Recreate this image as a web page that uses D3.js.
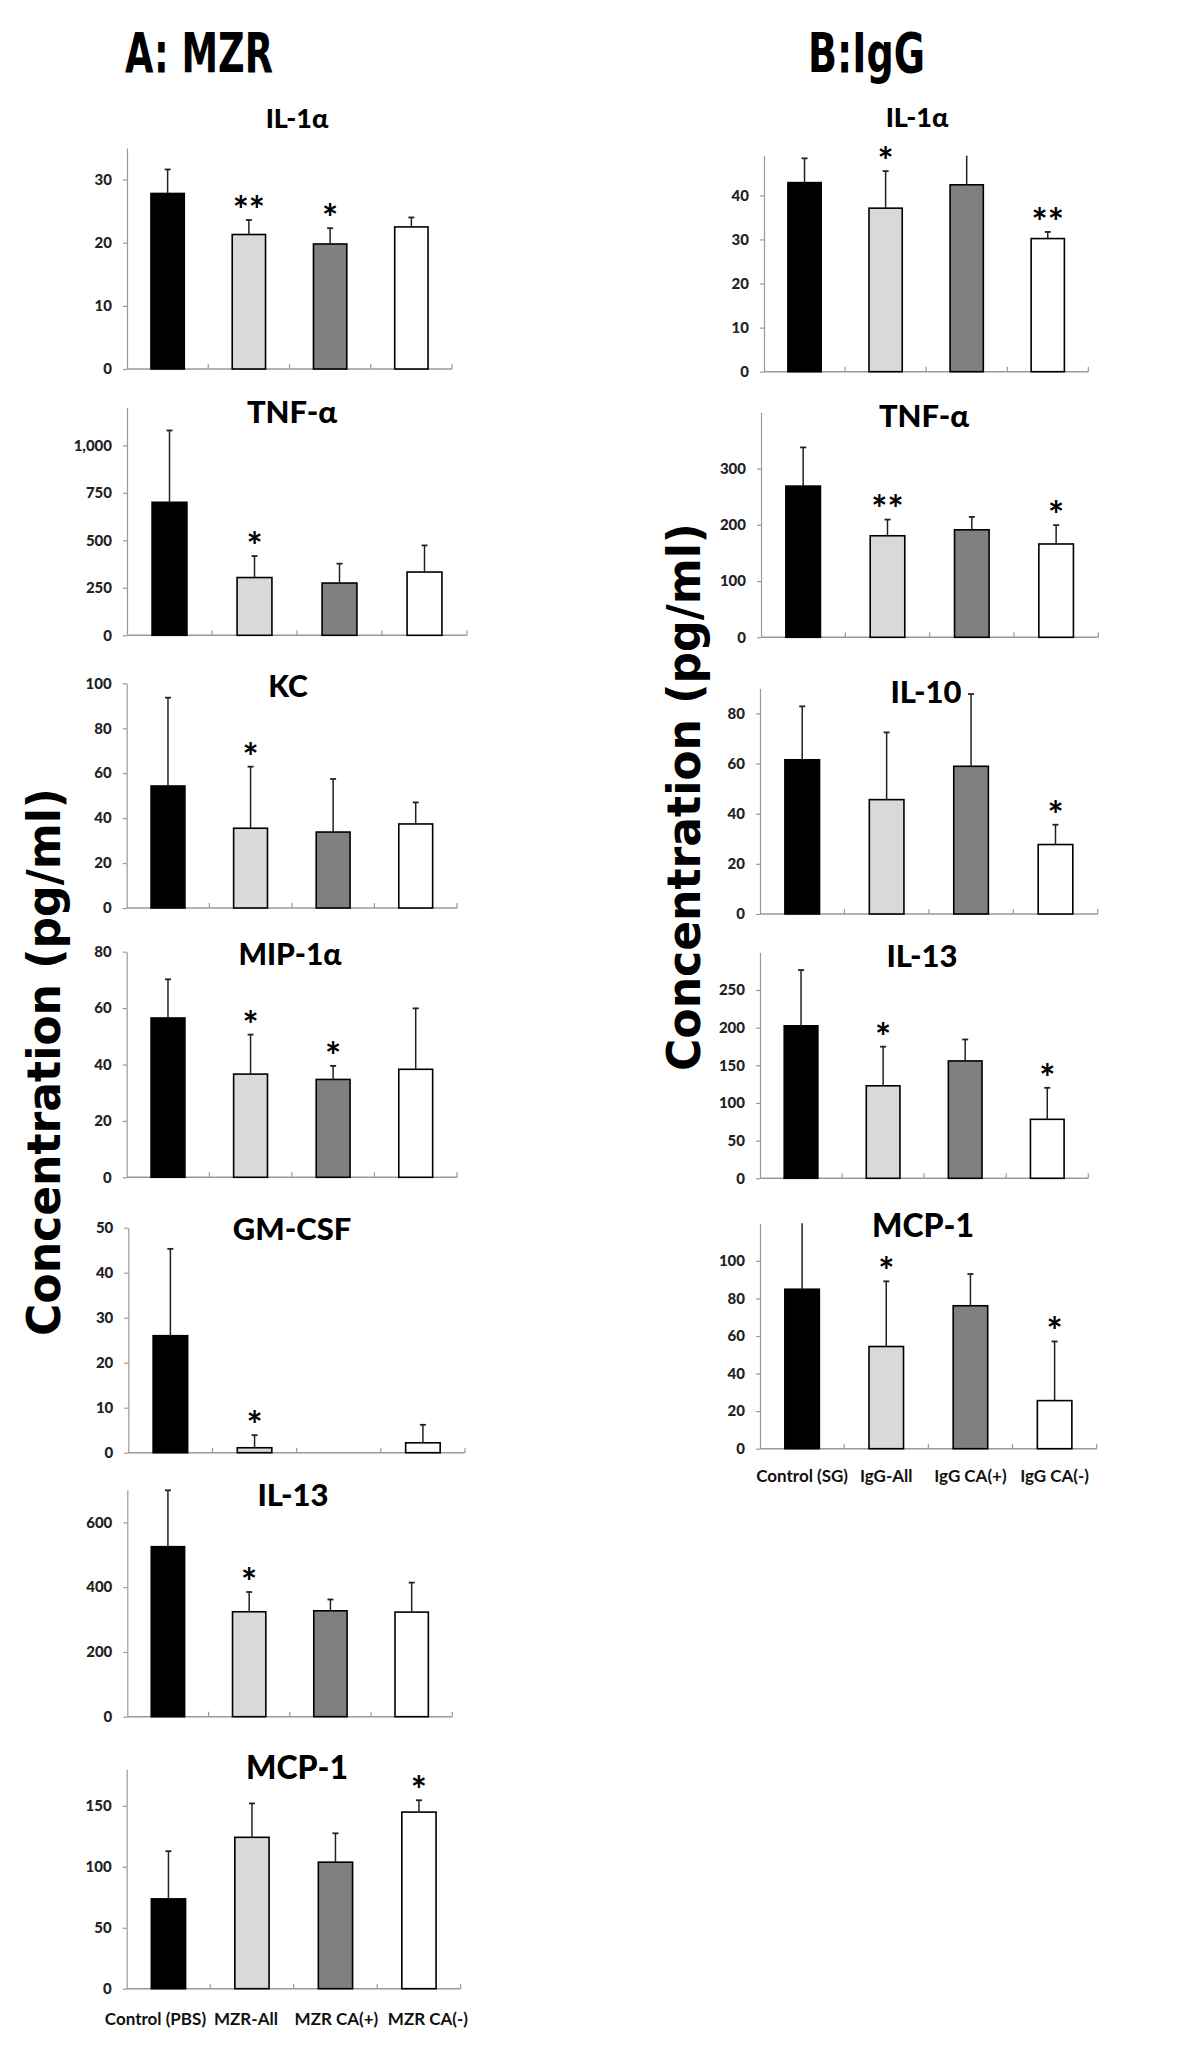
<!DOCTYPE html>
<html>
<head>
<meta charset="utf-8">
<script src="https://cdn.jsdelivr.net/npm/d3@7"></script>
<style>
  html, body { margin: 0; padding: 0; background: #fff; }
  svg { display: block; }
</style>
</head>
<body>
<script>
// ---------------- DATA ----------------
const groupsMZR = ["Control (PBS)", "MZR-All", "MZR CA(+)", "MZR CA(-)"];
const groupsIgG = ["Control (SG)", "IgG-All", "IgG CA(+)", "IgG CA(-)"];
const barColors = ["#000000", "#d9d9d9", "#808080", "#ffffff"];

// Panel A: MZR (means, SD, significance)
const mzrIL1aMean = [27.8, 21.3, 19.8, 22.5];
const mzrIL1aSD   = [3.8, 2.3, 2.5, 1.5];
const mzrIL1aSig  = ["", "**", "*", ""];

const mzrTNFaMean = [700, 304, 275, 333];
const mzrTNFaSD   = [378, 113, 102, 140];
const mzrTNFaSig  = ["", "*", "", ""];

const mzrKCMean = [54.3, 35.5, 33.8, 37.4];
const mzrKCSD   = [39.3, 27.4, 23.6, 9.6];
const mzrKCSig  = ["", "*", "", ""];

const mzrMIP1aMean = [56.5, 36.6, 34.7, 38.3];
const mzrMIP1aSD   = [13.7, 14.0, 4.8, 21.6];
const mzrMIP1aSig  = ["", "*", "*", ""];

const mzrGMCSFMean = [26.0, 1.1, 0, 2.2];
const mzrGMCSFSD   = [19.3, 2.8, 0, 4.0];
const mzrGMCSFSig  = ["", "*", "", ""];

const mzrIL13Mean = [525, 324, 327, 323];
const mzrIL13SD   = [174, 61, 35, 91];
const mzrIL13Sig  = ["", "*", "", ""];

const mzrMCP1Mean = [73.7, 124.2, 103.8, 144.9];
const mzrMCP1SD   = [39.1, 27.8, 23.7, 9.7];
const mzrMCP1Sig  = ["", "", "", "*"];

// Panel B: IgG
const iggIL1aMean = [42.9, 37.1, 42.4, 30.2];
const iggIL1aSD   = [5.5, 8.4, 8.6, 1.5];
const iggIL1aSig  = ["", "*", "", "**"];

const iggTNFaMean = [268.8, 180.5, 191.1, 165.9];
const iggTNFaSD   = [68.8, 28.8, 22.9, 33.5];
const iggTNFaSig  = ["", "**", "", "*"];

const iggIL10Mean = [61.5, 45.6, 58.9, 27.7];
const iggIL10SD   = [21.3, 26.8, 28.8, 7.9];
const iggIL10Sig  = ["", "", "", "*"];

const iggIL13Mean = [202.4, 122.8, 155.8, 78.3];
const iggIL13SD   = [74.0, 51.9, 28.5, 41.8];
const iggIL13Sig  = ["", "*", "", "*"];

const iggMCP1Mean = [84.9, 54.4, 76.1, 25.6];
const iggMCP1SD   = [40.0, 34.7, 16.9, 31.5];
const iggMCP1Sig  = ["", "*", "", "*"];

// Tick labels
const ticksA1 = [0, 10, 20, 30];
const ticksA2 = [0, 250, 500, 750, 1000];
const ticksA3 = [0, 20, 40, 60, 80, 100];
const ticksA4 = [0, 20, 40, 60, 80];
const ticksA5 = [0, 10, 20, 30, 40, 50];
const ticksA6 = [0, 200, 400, 600];
const ticksA7 = [0, 50, 100, 150];
const ticksB1 = [0, 10, 20, 30, 40];
const ticksB2 = [0, 100, 200, 300];
const ticksB3 = [0, 20, 40, 60, 80];
const ticksB4 = [0, 50, 100, 150, 200, 250];
const ticksB5 = [0, 20, 40, 60, 80, 100];

const panels = [
  {title: "IL-1α",  mean: mzrIL1aMean,  sd: mzrIL1aSD,  sig: mzrIL1aSig,  ticks: ticksA1, max: 35,   groups: groupsMZR},
  {title: "TNF-α",  mean: mzrTNFaMean,  sd: mzrTNFaSD,  sig: mzrTNFaSig,  ticks: ticksA2, max: 1200, groups: groupsMZR, comma: true},
  {title: "KC",     mean: mzrKCMean,    sd: mzrKCSD,    sig: mzrKCSig,    ticks: ticksA3, max: 100,  groups: groupsMZR},
  {title: "MIP-1α", mean: mzrMIP1aMean, sd: mzrMIP1aSD, sig: mzrMIP1aSig, ticks: ticksA4, max: 80,   groups: groupsMZR},
  {title: "GM-CSF", mean: mzrGMCSFMean, sd: mzrGMCSFSD, sig: mzrGMCSFSig, ticks: ticksA5, max: 50,   groups: groupsMZR},
  {title: "IL-13",  mean: mzrIL13Mean,  sd: mzrIL13SD,  sig: mzrIL13Sig,  ticks: ticksA6, max: 700,  groups: groupsMZR},
  {title: "MCP-1",  mean: mzrMCP1Mean,  sd: mzrMCP1SD,  sig: mzrMCP1Sig,  ticks: ticksA7, max: 180,  groups: groupsMZR, xlabels: true},
  {title: "IL-1α",  mean: iggIL1aMean,  sd: iggIL1aSD,  sig: iggIL1aSig,  ticks: ticksB1, max: 49,   groups: groupsIgG},
  {title: "TNF-α",  mean: iggTNFaMean,  sd: iggTNFaSD,  sig: iggTNFaSig,  ticks: ticksB2, max: 400,  groups: groupsIgG},
  {title: "IL-10",  mean: iggIL10Mean,  sd: iggIL10SD,  sig: iggIL10Sig,  ticks: ticksB3, max: 90,   groups: groupsIgG},
  {title: "IL-13",  mean: iggIL13Mean,  sd: iggIL13SD,  sig: iggIL13Sig,  ticks: ticksB4, max: 300,  groups: groupsIgG},
  {title: "MCP-1",  mean: iggMCP1Mean,  sd: iggMCP1SD,  sig: iggMCP1Sig,  ticks: ticksB5, max: 120,  groups: groupsIgG, xlabels: true}
];

// ---------------- LAYOUT (positions / styles) ----------------
const layout = [
  {left: 127,   right: 452,    top: 148,    zero: 369,    titleX: 297, titleY: 128,  titleSize: 27},
  {left: 127,   right: 467,    top: 407.3,  zero: 635.3,  titleX: 292, titleY: 423,  titleSize: 31},
  {left: 126.7, right: 457,    top: 683.3,  zero: 908,    titleX: 288, titleY: 697,  titleSize: 30},
  {left: 126.7, right: 457,    top: 951.7,  zero: 1177.3, titleX: 290, titleY: 965,  titleSize: 30},
  {left: 128.3, right: 465,    top: 1227.7, zero: 1452.7, titleX: 292, titleY: 1240, titleSize: 31},
  {left: 127.3, right: 452.3,  top: 1490,   zero: 1716.7, titleX: 293, titleY: 1506, titleSize: 31},
  {left: 126.7, right: 460.7,  top: 1769.3, zero: 1988.7, titleX: 297, titleY: 1779, titleSize: 32, labelY: 2025, labelDx: [-13, -6, 1, 9]},
  {left: 764,   right: 1088.3, top: 155.7,  zero: 371.7,  titleX: 917, titleY: 127,  titleSize: 27},
  {left: 761,   right: 1098.3, top: 412.3,  zero: 637.3,  titleX: 924, titleY: 427,  titleSize: 31},
  {left: 760,   right: 1097.7, top: 688.3,  zero: 914,    titleX: 926, titleY: 703,  titleSize: 31},
  {left: 760,   right: 1088.3, top: 952.3,  zero: 1178.3, titleX: 922, titleY: 967,  titleSize: 31},
  {left: 760,   right: 1096.7, top: 1223.3, zero: 1448.7, titleX: 923, titleY: 1237, titleSize: 32, labelY: 1482, labelDx: [0, 0, 0, 0]}
];

const FONT = "Lato, 'Open Sans', sans-serif";
const AXIS_COLOR = "#9a9a9a";
const STAR_SIZE = 38;

const svg = d3.select("body").append("svg")
  .attr("width", 1200).attr("height", 2066)
  .style("background", "#fff");

// Column headers
svg.append("text").attr("x", 125).attr("y", 72)
  .attr("font-family", "'DejaVu Sans', sans-serif").attr("font-weight", "bold")
  .attr("font-size", 55).attr("textLength", 148).attr("lengthAdjust", "spacingAndGlyphs")
  .attr("fill", "#000").text("A: MZR");
svg.append("text").attr("x", 808).attr("y", 72)
  .attr("font-family", "'DejaVu Sans', sans-serif").attr("font-weight", "bold")
  .attr("font-size", 55).attr("textLength", 117).attr("lengthAdjust", "spacingAndGlyphs")
  .attr("fill", "#000").text("B:IgG");

// Y axis titles
function yTitle(x, cy) {
  svg.append("text")
    .attr("transform", `translate(${x},${cy}) rotate(-90)`)
    .attr("text-anchor", "middle")
    .attr("font-family", "'DejaVu Sans', sans-serif").attr("font-weight", "bold")
    .attr("font-size", 47).attr("textLength", 548).attr("lengthAdjust", "spacingAndGlyphs")
    .attr("fill", "#000").text("Concentration (pg/ml)");
}
yTitle(60, 1062);
yTitle(700, 797);

panels.forEach((p, i) => {
  const L = layout[i];
  const g = svg.append("g");
  const x = d3.scaleBand().domain(p.groups).range([L.left, L.right]).padding(0);
  const y = d3.scaleLinear().domain([0, p.max]).range([L.zero, L.top]);
  const bw = x.bandwidth() * 0.41;
  const fmt = p.comma ? d3.format(",") : d3.format("d");

  // Y axis
  const ya = g.append("g").attr("transform", `translate(${L.left},0)`)
    .call(d3.axisLeft(y).tickValues(p.ticks).tickFormat(fmt).tickSize(4).tickSizeOuter(0).tickPadding(11));
  ya.select(".domain").attr("stroke", AXIS_COLOR).attr("stroke-width", 1.2);
  ya.selectAll(".tick line").attr("stroke", AXIS_COLOR).attr("stroke-width", 1.2);
  ya.selectAll(".tick text").attr("font-family", FONT).attr("font-weight", "900")
    .attr("font-size", 15).attr("fill", "#222");

  // X axis line + boundary ticks
  g.append("line").attr("x1", L.left).attr("x2", L.right)
    .attr("y1", y(0)).attr("y2", y(0))
    .attr("stroke", AXIS_COLOR).attr("stroke-width", 1.4);
  g.selectAll(".xtick").data(p.groups).enter().append("line")
    .attr("x1", d => x(d) + x.bandwidth()).attr("x2", d => x(d) + x.bandwidth())
    .attr("y1", y(0) - 5).attr("y2", y(0))
    .attr("stroke", AXIS_COLOR).attr("stroke-width", 1.2);

  const rows = p.groups.map((grp, j) => ({grp, v: p.mean[j], sd: p.sd[j], sig: p.sig[j], c: barColors[j]}));

  // Bars
  g.selectAll(".bar").data(rows).enter().append("rect")
    .attr("x", d => x(d.grp) + (x.bandwidth() - bw) / 2)
    .attr("width", bw)
    .attr("y", d => y(d.v))
    .attr("height", d => y(0) - y(d.v))
    .attr("fill", d => d.c)
    .attr("stroke", d => d.v > 0 ? "#000" : "none")
    .attr("stroke-width", 1.6);

  // Error bars (upper only)
  rows.filter(d => d.sd > 0).forEach(d => {
    const cx = x(d.grp) + x.bandwidth() / 2;
    const topV = Math.min(d.v + d.sd, p.max);
    g.append("line").attr("x1", cx).attr("x2", cx)
      .attr("y1", y(d.v)).attr("y2", y(topV))
      .attr("stroke", "#222").attr("stroke-width", 1.5);
    if (d.v + d.sd <= p.max) {
      g.append("line").attr("x1", cx - 3).attr("x2", cx + 3)
        .attr("y1", y(topV)).attr("y2", y(topV))
        .attr("stroke", "#222").attr("stroke-width", 1.8);
    }
  });

  // Significance stars
  g.selectAll(".sig").data(rows.filter(d => d.sig)).enter().append("text")
    .attr("x", d => x(d.grp) + x.bandwidth() / 2)
    .attr("y", d => y(Math.min(d.v + d.sd, p.max)) - 17 + STAR_SIZE * 0.55)
    .attr("text-anchor", "middle")
    .attr("font-family", FONT).attr("font-weight", "bold").attr("font-size", STAR_SIZE)
    .attr("fill", "#000")
    .text(d => d.sig);

  // Panel title
  g.append("text").attr("x", L.titleX).attr("y", L.titleY)
    .attr("text-anchor", "middle")
    .attr("font-family", FONT).attr("font-weight", "900").attr("font-size", L.titleSize)
    .attr("fill", "#000").text(p.title);

  // Group labels
  if (p.xlabels) {
    g.selectAll(".xl").data(p.groups).enter().append("text")
      .attr("x", (d, j) => x(d) + x.bandwidth() / 2 + L.labelDx[j])
      .attr("y", L.labelY)
      .attr("text-anchor", "middle")
      .attr("font-family", FONT).attr("font-weight", "bold").attr("font-size", 17)
      .attr("fill", "#111").text(d => d);
  }
});
</script>
</body>
</html>
